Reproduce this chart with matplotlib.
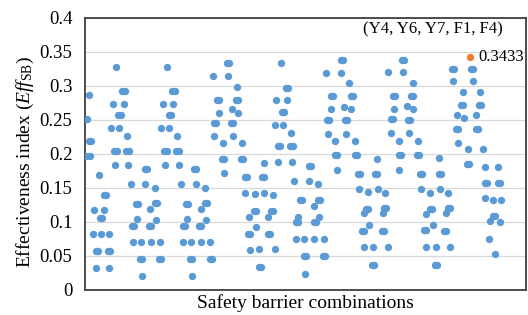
import matplotlib
matplotlib.use("Agg")
import matplotlib.pyplot as plt

plt.rcParams['font.family'] = ['Liberation Serif', 'DejaVu Serif']
plt.rcParams['mathtext.fontset'] = 'custom'
plt.rcParams['mathtext.rm'] = 'Liberation Serif'
plt.rcParams['mathtext.it'] = 'Liberation Serif:italic'

# combination index (position along the x axis) and effectiveness index, per cluster
h1_x = [88, 86, 88, 90, 85, 89]
h1_y = [.287, .251, .219, .219, .197, .197]
l1_x = [98, 103, 105, 93, 103, 99, 101, 92, 100, 108, 95, 97, 107, 109, 95, 108]
l1_y = [.169, .139, .139, .117, .117, .106, .106, .082, .082, .082, .058, .058, .058, .058, .032, .032]
h2_x = [115, 121, 124, 112, 123, 117, 120, 110, 118, 126, 113, 116, 125, 128, 114, 127, 130]
h2_y = [.328, .293, .293, .274, .274, .257, .257, .238, .238, .227, .205, .205, .205, .205, .184, .184, .156]
l2_x = [144, 146, 144, 154, 135, 137, 154, 156, 149, 136, 131, 133, 148, 150, 155, 132, 140, 150, 159, 139, 141, 158, 160, 141]
l2_y = [.178, .178, .156, .150, .127, .127, .128, .128, .119, .104, .094, .094, .094, .094, .103, .070, .070, .070, .070, .046, .046, .046, .046, .020]
h3_x = [166, 171, 174, 162, 172, 168, 170, 160, 168, 176, 163, 166, 175, 178, 164, 178, 180]
h3_y = [.328, .293, .293, .274, .274, .257, .257, .238, .238, .227, .205, .205, .205, .205, .184, .184, .156]
l3_x = [193, 195, 195, 204, 185, 187, 204, 206, 200, 186, 182, 184, 198, 200, 205, 182, 190, 200, 209, 189, 191, 209, 211, 191]
l3_y = [.178, .178, .156, .150, .127, .127, .128, .128, .119, .104, .094, .094, .094, .094, .103, .070, .070, .070, .070, .046, .046, .046, .046, .020]
h4_x = [212, 226, 228, 227, 236, 216, 218, 235, 237, 218, 231, 237, 213, 215, 230, 232, 213, 222, 232, 241, 221, 223, 240, 242, 223]
h4_y = [.315, .334, .334, .315, .299, .280, .280, .280, .280, .261, .266, .260, .246, .246, .246, .246, .226, .216, .226, .216, .193, .193, .193, .193, .172]
l4_x = [263, 244, 246, 261, 263, 244, 254, 263, 272, 253, 255, 270, 272, 248, 267, 255, 247, 249, 267, 269, 249, 258, 274, 258, 260]
l4_y = [.187, .166, .166, .166, .166, .143, .141, .143, .140, .116, .116, .116, .116, .107, .107, .093, .082, .082, .082, .082, .059, .060, .060, .034, .034]
h5_x = [280, 285, 287, 275, 286, 281, 283, 274, 282, 290, 277, 279, 289, 292, 277, 291, 293]
h5_y = [.334, .297, .297, .280, .280, .262, .262, .243, .243, .231, .212, .212, .212, .212, .188, .188, .160]
l5_x = [308, 310, 308, 317, 299, 301, 317, 319, 313, 297, 295, 297, 313, 315, 318, 295, 303, 313, 323, 303, 305, 322, 324, 304]
l5_y = [.182, .182, .160, .156, .132, .132, .132, .132, .124, .108, .100, .100, .100, .100, .108, .075, .075, .075, .075, .050, .050, .050, .050, .024]
h6_x = [325, 340, 342, 340, 348, 330, 332, 350, 352, 330, 343, 350, 326, 328, 344, 346, 327, 334, 345, 354, 334, 336, 354, 356, 336]
h6_y = [.319, .338, .338, .319, .304, .285, .285, .285, .285, .266, .269, .266, .250, .250, .250, .250, .229, .219, .229, .219, .199, .199, .199, .199, .176]
l6_x = [376, 357, 359, 374, 376, 358, 367, 377, 384, 365, 367, 383, 385, 363, 382, 361, 363, 368, 381, 383, 363, 372, 387, 371, 373]
l6_y = [.193, .171, .171, .171, .171, .148, .144, .148, .143, .119, .119, .120, .120, .113, .113, .087, .087, .096, .087, .087, .063, .063, .063, .037, .037]
h7_x = [387, 401, 403, 402, 412, 392, 394, 410, 412, 393, 406, 412, 390, 392, 407, 409, 390, 398, 408, 417, 398, 400, 416, 418, 398]
h7_y = [.321, .338, .338, .321, .304, .285, .285, .285, .285, .266, .271, .266, .251, .251, .250, .250, .231, .219, .231, .219, .199, .199, .199, .199, .176]
l7_x = [438, 419, 421, 438, 440, 420, 429, 439, 447, 429, 431, 447, 449, 425, 445, 423, 425, 432, 443, 445, 425, 435, 449, 434, 436]
l7_y = [.194, .171, .171, .171, .171, .148, .143, .148, .143, .119, .119, .120, .120, .112, .113, .088, .088, .096, .087, .087, .063, .063, .063, .037, .037]
h8_x = [451, 453, 470, 472, 452, 472, 462, 479, 460, 462, 478, 480, 456, 463, 475, 455, 457, 475, 477, 457, 467, 482, 466, 468]
h8_y = [.325, .325, .325, .325, .307, .307, .291, .291, .272, .272, .272, .272, .257, .253, .257, .237, .237, .237, .237, .216, .208, .207, .185, .185]
l8_x = [484, 497, 484, 486, 497, 499, 484, 492, 500, 492, 494, 489, 499, 488, 494]
l8_y = [.181, .181, .158, .158, .158, .158, .136, .132, .132, .109, .109, .102, .100, .075, .053]

best_x = [469]
best_y = [0.3433]
best_label = "(Y4, Y6, Y7, F1, F4)"

xs = h1_x + l1_x + h2_x + l2_x + h3_x + l3_x + h4_x + l4_x + h5_x + l5_x + h6_x + l6_x + h7_x + l7_x + h8_x + l8_x
ys = h1_y + l1_y + h2_y + l2_y + h3_y + l3_y + h4_y + l4_y + h5_y + l5_y + h6_y + l6_y + h7_y + l7_y + h8_y + l8_y

yticks = [0, 0.05, 0.1, 0.15, 0.2, 0.25, 0.3, 0.35, 0.4]
ytick_labels = ["0", "0.05", "0.1", "0.15", "0.2", "0.25", "0.3", "0.35", "0.4"]

fig = plt.figure(figsize=(5.28, 3.15), dpi=100)
ax = fig.add_axes([85/528, 25/315, 441/528, 272/315])

ax.scatter(xs, ys, s=28, color='#5B9BD5', linewidths=0, zorder=3)
ax.scatter(best_x, best_y, s=28, color='#ED7D31', linewidths=0, zorder=4)
ax.annotate(f"{best_y[0]:.4f}", (best_x[0], best_y[0]), xytext=(6, 0), textcoords='offset points',
            ha='left', va='center', fontsize=12)
ax.annotate(best_label, (best_x[0], best_y[0]), xytext=(-27, 14), textcoords='offset points',
            ha='center', va='bottom', fontsize=12)

ax.set_xlim(84, 525)
ax.set_ylim(0, 0.4)
ax.set_yticks(yticks)
ax.set_yticklabels(ytick_labels)
ax.set_xticks([])
ax.tick_params(axis='y', length=0, pad=9, labelsize=13.5)
ax.grid(axis='y', color='#d9d9d9', linewidth=0.9, zorder=0)
ax.set_axisbelow(True)
for sp in ax.spines.values():
    sp.set_color('#404040')
    sp.set_linewidth(1.3)

ax.set_ylabel(r'Effectiveness index ($\mathit{Eff}_{\mathrm{SB}}$)', fontsize=14)
ax.yaxis.set_label_coords(-0.11, 0.47)
ax.set_xlabel('Safety barrier combinations', fontsize=14, labelpad=3)

fig.savefig('out.png', dpi=100)
